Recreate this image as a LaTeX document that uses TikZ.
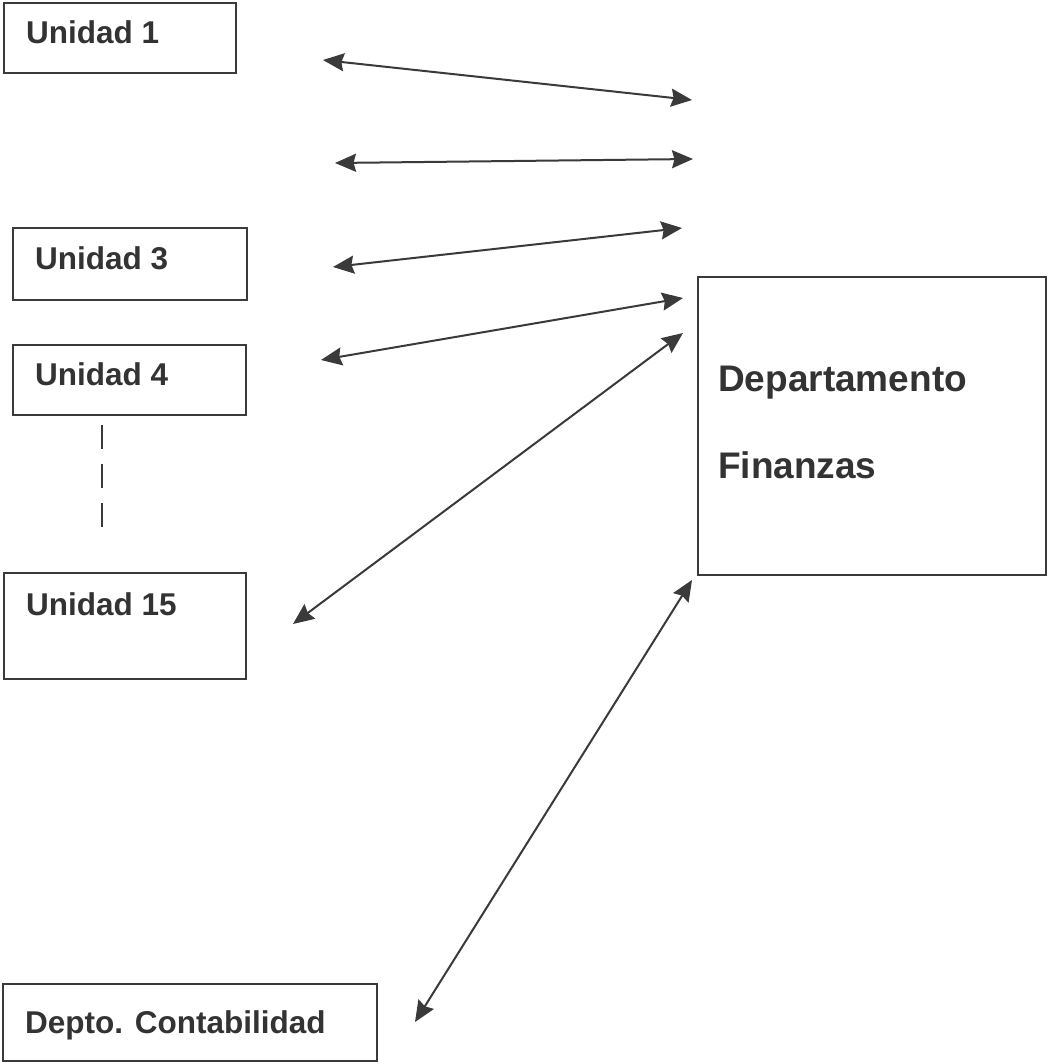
\documentclass[tikz,border=0pt]{standalone}
\usepackage{fontspec}
\setmainfont{Liberation Sans}
\usetikzlibrary{arrows.meta}
\definecolor{ink}{HTML}{333333}
\definecolor{lineink}{HTML}{3A3A3A}
\tikzset{
  boxshape/.style={draw=lineink, line width=2.5pt, fill=white},
  lbl/.style={anchor=base west, inner sep=0pt, text=ink, font=\bfseries\fontsize{31.5}{36}\selectfont},
  biglbl/.style={anchor=base west, inner sep=0pt, text=ink, font=\bfseries\fontsize{37}{42}\selectfont},
  tip/.tip={Stealth[length=21pt,width=18pt,inset=2.5pt]},
  link/.style={draw=lineink, line width=2pt, tip-tip},
  dots/.style={draw=lineink, line width=2pt, dash pattern=on 24pt off 15pt}
}
\begin{document}
\begin{tikzpicture}[x=1pt,y=-1pt]
\useasboundingbox[fill=white] (0,0) rectangle (1047,1064);
% boxes
\draw[boxshape] (4,3) rectangle (236,73);
\node[lbl] (u1) at (26,44) {Unidad 1};
\draw[boxshape] (13,228) rectangle (247,300);
\node[lbl] (u3) at (35,270) {Unidad 3};
\draw[boxshape] (13,345) rectangle (246,415);
\node[lbl] (u4) at (35,385) {Unidad 4};
\draw[boxshape] (4,573) rectangle (246,679);
\node[lbl] (u15) at (26,615) {Unidad 15};
\draw[boxshape] (3,984) rectangle (377,1061);
\node[lbl] (dc) at (25,1033) {Depto. Contabilidad};
\draw[boxshape] (698,277) rectangle (1046,575);
\node[biglbl] (df1) at (718,391) {Departamento};
\node[biglbl] (df2) at (718,478) {Finanzas};
% dashed continuation
\coordinate (d1) at (102,425);
\coordinate (d2) at (102,532);
\draw[dots] (d1) -- (d2);
% arrow end points
\coordinate (a1l) at (323,60);  \coordinate (a1r) at (692,100);
\coordinate (a2l) at (335,163); \coordinate (a2r) at (693,159);
\coordinate (a3l) at (333,267); \coordinate (a3r) at (682,228);
\coordinate (a4l) at (321,360); \coordinate (a4r) at (683,298);
\coordinate (a5l) at (293,624); \coordinate (a5r) at (683,333);
\coordinate (a6l) at (415,1022); \coordinate (a6r) at (692,580);
\draw[link] (a1l) -- (a1r);
\draw[link] (a2l) -- (a2r);
\draw[link] (a3l) -- (a3r);
\draw[link] (a4l) -- (a4r);
\draw[link] (a5l) -- (a5r);
\draw[link] (a6l) -- (a6r);
\end{tikzpicture}
\end{document}
